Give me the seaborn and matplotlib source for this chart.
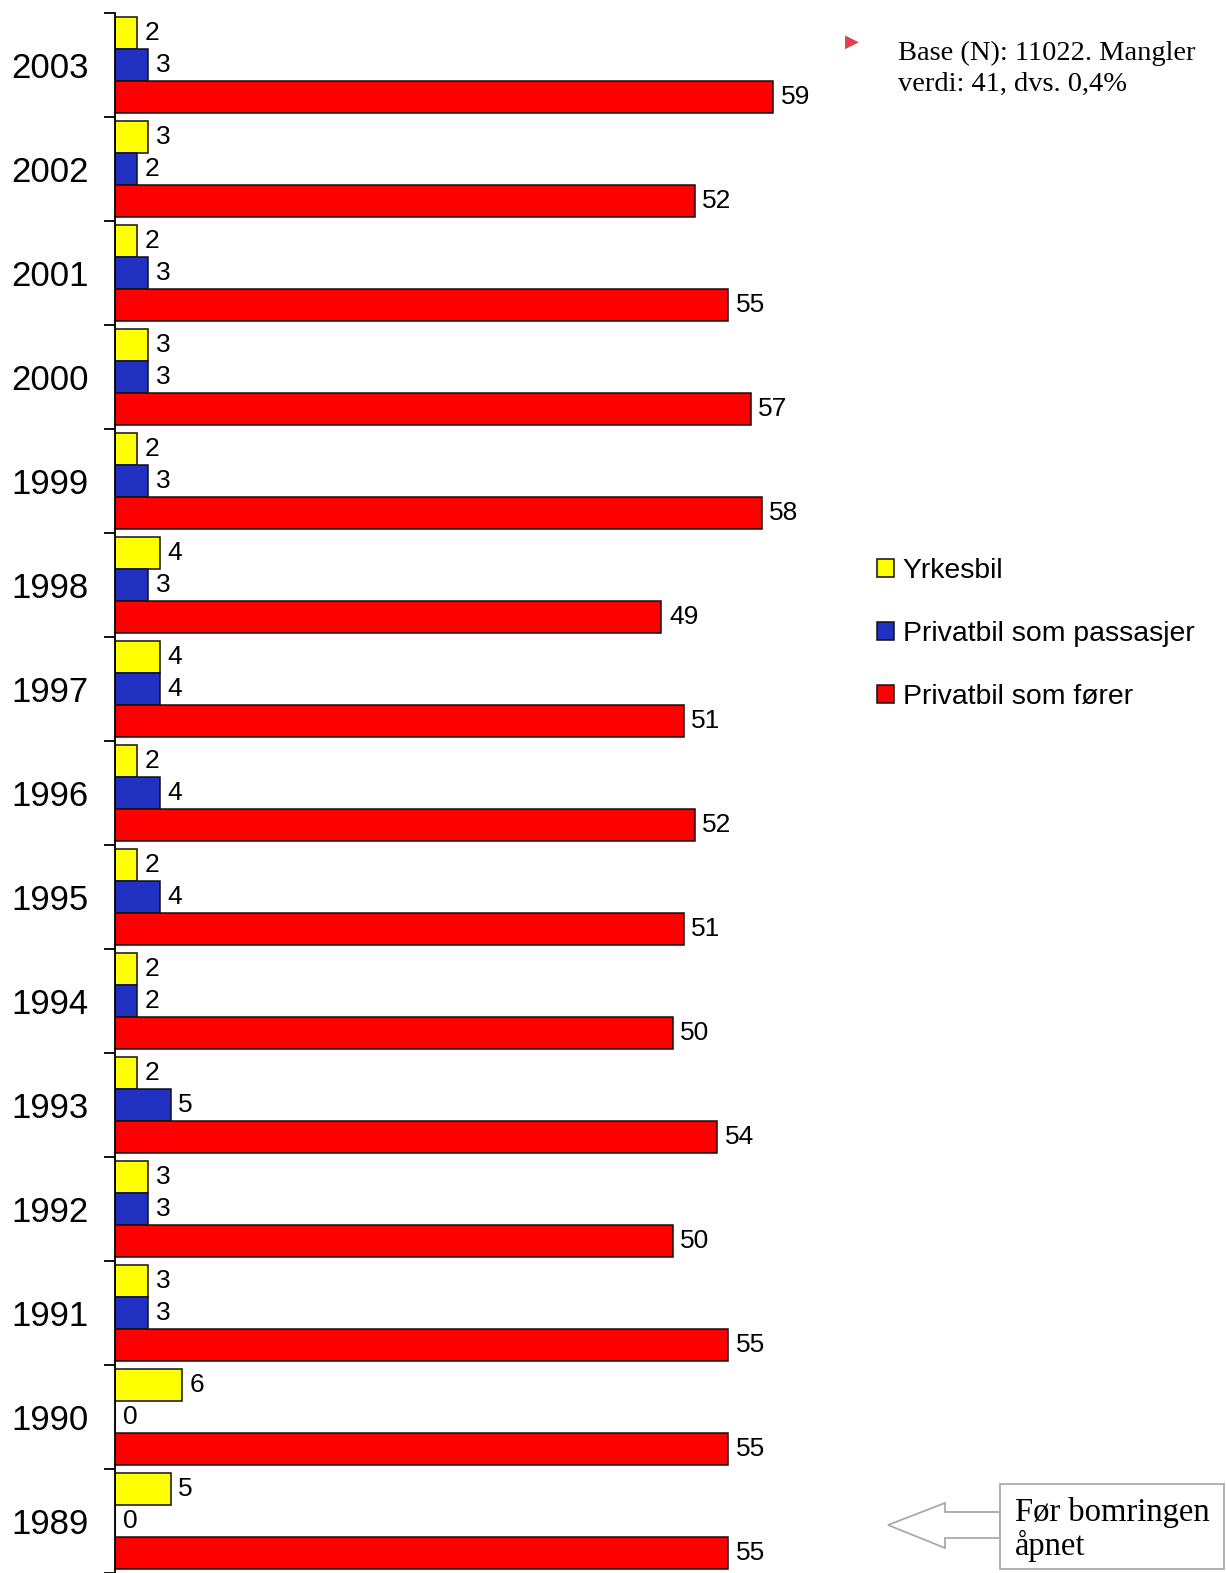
import matplotlib
matplotlib.use("Agg")
import matplotlib.pyplot as plt
from matplotlib.patches import Rectangle, Polygon
from matplotlib.ticker import FixedLocator, NullFormatter
import seaborn as sns
import pandas as pd

years = ["2003", "2002", "2001", "2000", "1999", "1998", "1997", "1996",
         "1995", "1994", "1993", "1992", "1991", "1990", "1989"]
categories = ["Yrkesbil", "Privatbil som passasjer", "Privatbil som fører"]
yrkesbil = [2, 3, 2, 3, 2, 4, 4, 2, 2, 2, 2, 3, 3, 6, 5]
passasjer = [3, 2, 3, 3, 3, 3, 4, 4, 4, 2, 5, 3, 3, 0, 0]
forer = [59, 52, 55, 57, 58, 49, 51, 52, 51, 50, 54, 50, 55, 55, 55]
colors = ["#FFFF00", "#2030C0", "#FF0000"]

note_lines = ["Base (N): 11022. Mangler", "verdi: 41, dvs. 0,4%"]
box_lines = ["Før bomringen", "åpnet"]

rows = []
for cat, vals in zip(categories, [yrkesbil, passasjer, forer]):
    for y, v in zip(years, vals):
        rows.append({"year": y, "kategori": cat, "value": v})
df = pd.DataFrame(rows)

sns.set_style("white")
plt.rcParams["font.family"] = ["Liberation Sans", "DejaVu Sans"]
plt.rcParams["text.color"] = "black"
plt.rcParams["axes.labelcolor"] = "black"
plt.rcParams["ytick.color"] = "black"

W, H = 1226, 1573
fig = plt.figure(figsize=(W / 100, H / 100), dpi=100)


def fx(x):
    return x / W


def fy(y):
    return 1 - y / H


ax = fig.add_axes([fx(115), 0.0, fx(700), 1560 / H])
sns.barplot(data=df, y="year", x="value", hue="kategori", order=years,
            hue_order=categories, palette=colors, saturation=1, orient="h",
            width=0.93, edgecolor="#111111", linewidth=1.1, ax=ax, legend=True)

ax.set_xlim(0, 700 / 11.15)
ax.set_ylim(len(years) - 0.5, -0.5)
for cont in ax.containers:
    ax.bar_label(cont, fmt="{:.0f}", padding=5.5, fontsize=19, color="black")

ax.set_xlabel("")
ax.set_ylabel("")
ax.set_xticks([])
for s in ["top", "right", "bottom"]:
    ax.spines[s].set_visible(False)
ax.spines["left"].set_color("black")
ax.spines["left"].set_linewidth(1.3)

centers = list(range(len(years)))
ax.yaxis.set_major_locator(FixedLocator([i - 0.5 for i in range(len(years) + 1)]))
ax.yaxis.set_major_formatter(NullFormatter())
ax.yaxis.set_minor_locator(FixedLocator(centers))
ax.set_yticks(centers, labels=years, minor=True)
ax.tick_params(axis="y", which="major", length=8, width=1.3, color="black",
               direction="out", left=True)
ax.tick_params(axis="y", which="minor", length=0, pad=19, labelsize=25,
               labelcolor="black")

handles, labels = ax.get_legend_handles_labels()
ax.get_legend().remove()
fig.legend(handles, labels, loc="center left", bbox_to_anchor=(fx(877), fy(634)),
           frameon=False, fontsize=20.4, handlelength=0.6, handleheight=0.6,
           handletextpad=0.3, labelspacing=1.30, borderpad=0, borderaxespad=0,
           labelcolor="black")

# note at the top right
fig.text(fx(845), fy(42), "\u25B6", fontsize=13, color="#E0404A",
         ha="left", va="center", family="DejaVu Sans")
fig.text(fx(898), fy(60), note_lines[0], fontsize=20.5, family="Liberation Serif",
         ha="left", va="baseline", color="black")
fig.text(fx(898), fy(91), note_lines[1], fontsize=20.5, family="Liberation Serif",
         ha="left", va="baseline", color="black")

# arrow and box
gray = "#AAAAAA"
pts = [(1000, 1512), (945, 1512), (945, 1503), (888, 1525), (945, 1548),
       (945, 1538), (1000, 1538)]
fig.add_artist(Polygon([(fx(x), fy(y)) for x, y in pts], closed=True,
                       transform=fig.transFigure, facecolor="white",
                       edgecolor=gray, linewidth=1.3))
fig.add_artist(Rectangle((fx(1000), fy(1569)), fx(224), (1569 - 1484) / H,
                         transform=fig.transFigure, facecolor="white",
                         edgecolor=gray, linewidth=1.3))
fig.text(fx(1015), fy(1521), box_lines[0], fontsize=23.5, family="Liberation Serif",
         ha="left", va="baseline", color="black")
fig.text(fx(1015), fy(1555), box_lines[1], fontsize=23.5, family="Liberation Serif",
         ha="left", va="baseline", color="black")

fig.savefig("out.png", dpi=100)
